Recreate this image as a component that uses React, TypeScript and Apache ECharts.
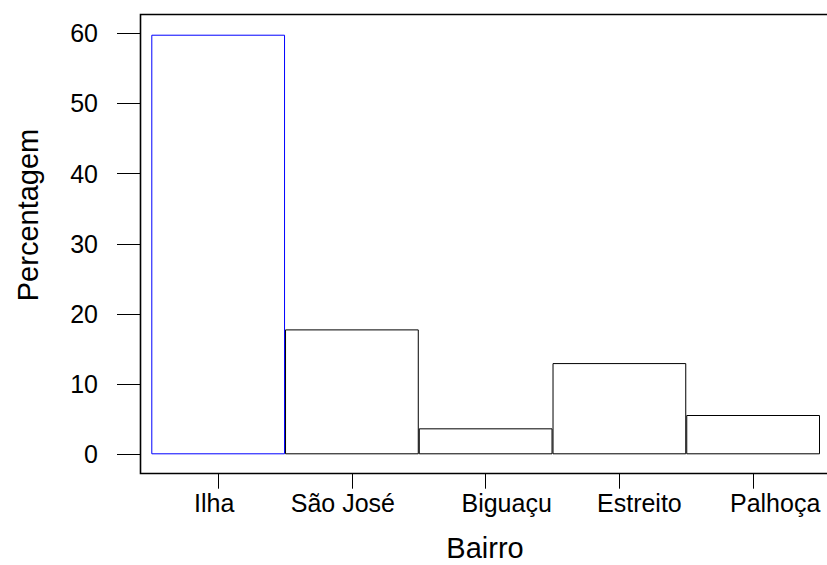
import React, { useEffect, useRef } from "react";
import * as echarts from "echarts";

const categories = ["Ilha", "São José", "Biguaçu", "Estreito", "Palhoça"];
const percentages = [59.8, 17.8, 3.7, 13.0, 5.6];
const yTicks = [0, 10, 20, 30, 40, 50, 60];
const xTitle = "Bairro";
const yTitle = "Percentagem";

const FONT = "'Liberation Sans', Arial, sans-serif";
// horizontal label padding [right, left] to reproduce label placement under each tick
const LABEL_PAD: [number, number][] = [[8, 0], [18, 0], [0, 42], [0, 40], [0, 44]];

export default function App() {
  const ref = useRef<HTMLDivElement>(null);
  useEffect(() => {
    if (!ref.current) return;
    const chart = echarts.init(ref.current, undefined, { renderer: "svg" });
    const rich: Record<string, any> = {};
    LABEL_PAD.forEach(([r, l], i) => {
      rich["c" + i] = { fontSize: 25, color: "#000", fontFamily: FONT, padding: [0, r, 0, l] };
    });
    chart.setOption({
      animation: false,
      backgroundColor: "#fff",
      textStyle: { fontFamily: FONT, color: "#000" },
      grid: { left: 151.3, right: 7, top: 33.3, bottom: 110.7, outerBoundsMode: "none", containLabel: false },
      graphic: [
        {
          type: "rect",
          shape: { x: 140.5, y: 14.5, width: 720, height: 459 },
          style: { fill: "none", stroke: "#000", lineWidth: 1.6 },
          z: 10,
        },
        {
          type: "text",
          x: 485,
          y: 548,
          style: { text: xTitle, font: `29px ${FONT}`, fill: "#000", align: "center", verticalAlign: "middle" },
        },
        {
          type: "text",
          x: 28,
          y: 215,
          rotation: Math.PI / 2,
          style: { text: yTitle, font: `29px ${FONT}`, fill: "#000", align: "center", verticalAlign: "middle" },
        },
      ],
      xAxis: {
        type: "category",
        data: categories,
        offset: 19.4,
        axisLine: { show: false, onZero: false },
        axisTick: { show: true, alignWithLabel: true, length: 15, lineStyle: { color: "#000", width: 1 } },
        axisLabel: {
          fontSize: 25,
          color: "#000",
          margin: 17,
          interval: 0,
          fontFamily: FONT,
          formatter: (v: string) => `{c${categories.indexOf(v)}|${v}}`,
          rich,
        },
      },
      yAxis: {
        type: "value",
        min: yTicks[0],
        max: yTicks[yTicks.length - 1],
        interval: 10,
        offset: 11.3,
        axisLine: { show: false, onZero: false },
        axisTick: { show: true, length: 23, lineStyle: { color: "#000", width: 1 } },
        axisLabel: { fontSize: 25, color: "#000", margin: 42, fontFamily: FONT },
        splitLine: { show: false },
      },
      series: [
        {
          type: "bar",
          barWidth: "100%",
          barGap: "0%",
          data: percentages.map((v, i) => ({
            value: v,
            itemStyle: {
              color: "#fff",
              borderColor: i === 0 ? "#0000ff" : "#000",
              borderWidth: 1,
            },
          })),
        },
      ],
    });
    return () => chart.dispose();
  }, []);
  return (
    <div
      ref={ref}
      style={{ position: "fixed", left: 0, top: 0, width: 827, height: 565 }}
    />
  );
}
